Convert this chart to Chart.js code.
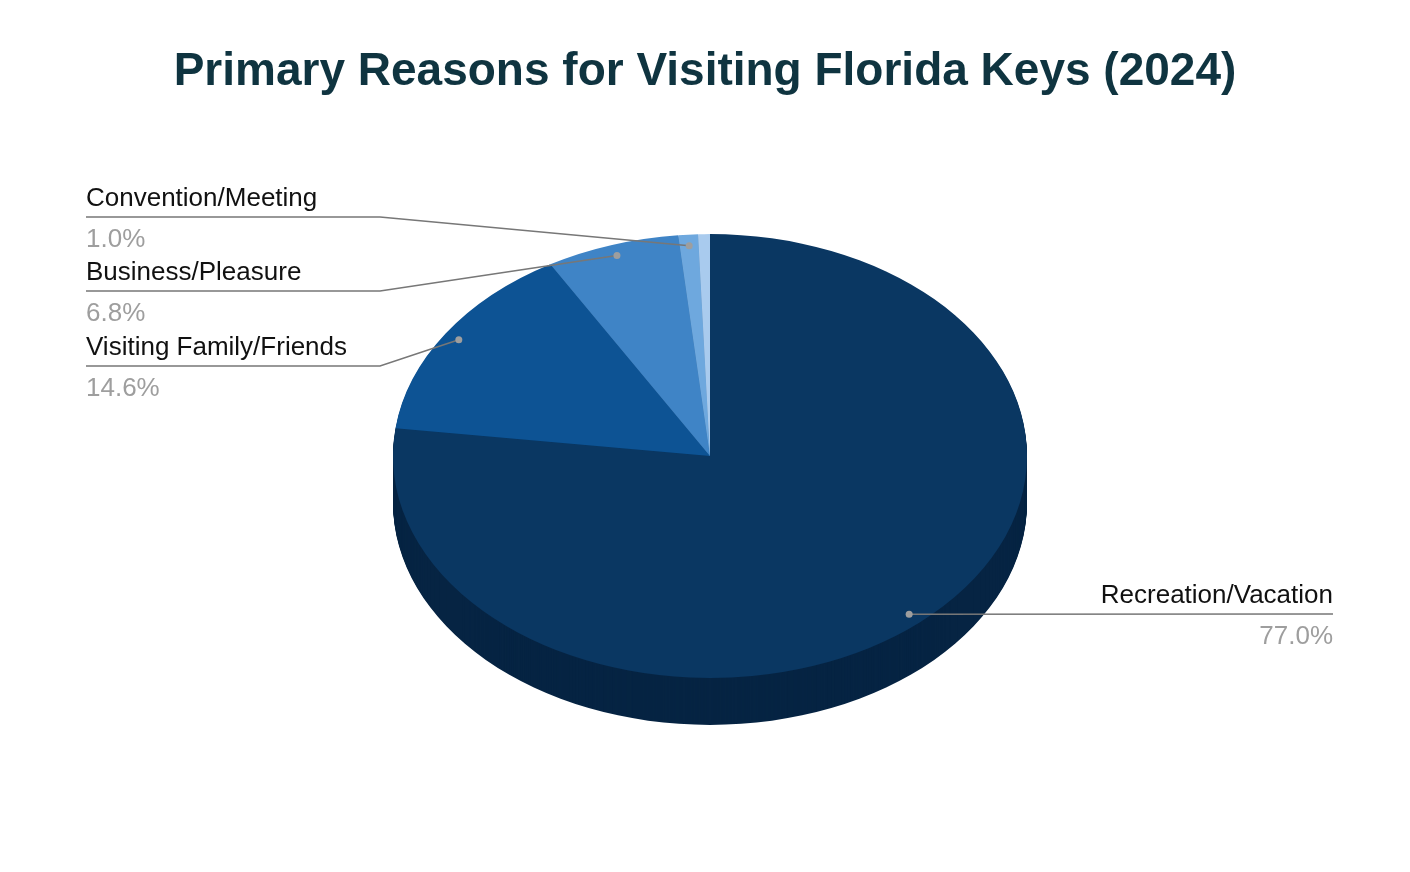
<!DOCTYPE html>
<html><head><meta charset="utf-8">
<script src="https://cdn.jsdelivr.net/npm/chart.js@4"></script>
<style>body{margin:0;background:#fff}#wrap{width:1410px;height:872px}</style>
</head><body><div id="wrap"><canvas id="c"></canvas></div>
<script>
const labels = ["Recreation/Vacation", "Visiting Family/Friends", "Business/Pleasure", "Convention/Meeting", "Other"];
const values = [77.0, 14.6, 6.8, 1.0, 0.6];
const colors = ["#0a3762", "#0d5394", "#3f84c6", "#6ea8de", "#a9cbee"];
const sides = ["#062443", "#083763", "#2a5d8f", "#4b7eaf", "#7a9fc4"];
const shown = [true, true, true, true, false];

const SQ = 0.7, DEPTH = 47;
// label anchors: [textX, lineY, align, elbowX]
const place = [[1333, 614, "right", 909], [86, 366, "left", 380], [86, 291, "left", 380], [86, 217, "left", 380]];

function squash(ctx, chart) {
  const a = chart.getDatasetMeta(0).data[0];
  ctx.translate(a.x, a.y); ctx.scale(1, SQ); ctx.translate(-a.x, -a.y);
}

const pie3d = {
  id: "pie3d",
  beforeDatasetsDraw(chart) {
    const ctx = chart.ctx, meta = chart.getDatasetMeta(0);
    ctx.save(); squash(ctx, chart);
    for (let dy = DEPTH; dy > 0; dy--) {
      meta.data.forEach((a, i) => {
        ctx.fillStyle = sides[i];
        ctx.beginPath();
        ctx.moveTo(a.x, a.y + dy / SQ);
        ctx.arc(a.x, a.y + dy / SQ, a.outerRadius, a.startAngle, a.endAngle);
        ctx.closePath(); ctx.fill();
      });
    }
  },
  afterDatasetsDraw(chart) {
    const ctx = chart.ctx, meta = chart.getDatasetMeta(0);
    ctx.restore();
    meta.data.forEach((a, i) => {
      if (!shown[i]) return;
      const m = (a.startAngle + a.endAngle) / 2, r = a.outerRadius * 0.95;
      const px = a.x + Math.cos(m) * r, py = a.y + Math.sin(m) * r * SQ;
      const [tx, ly, al, ex] = place[i];
      ctx.strokeStyle = "#777"; ctx.lineWidth = 1.5;
      ctx.beginPath(); ctx.moveTo(px, py);
      if (al === "left") { ctx.lineTo(ex, ly); ctx.lineTo(tx, ly); } else { ctx.lineTo(tx, ly); }
      ctx.stroke();
      ctx.fillStyle = "#9e9e9e"; ctx.beginPath(); ctx.arc(px, py, 3.5, 0, Math.PI * 2); ctx.fill();
      ctx.textAlign = al; ctx.textBaseline = "alphabetic";
      ctx.font = "26px 'Liberation Sans', Arial, sans-serif";
      ctx.fillStyle = "#111"; ctx.fillText(labels[i], tx, ly - 11);
      ctx.fillStyle = "#9e9e9e"; ctx.fillText(values[i].toFixed(1) + "%", tx, ly + 30);
    });
    ctx.save();
    ctx.font = "bold 46px 'Liberation Sans', Arial, sans-serif";
    ctx.fillStyle = "#0f3440"; ctx.textAlign = "center"; ctx.textBaseline = "middle";
    ctx.fillText("Primary Reasons for Visiting Florida Keys (2024)", 705, 72);
    ctx.restore();
  }
};

new Chart(document.getElementById("c"), {
  type: "pie",
  data: { labels, datasets: [{ data: values, backgroundColor: colors, borderWidth: 0 }] },
  options: {
    responsive: true, maintainAspectRatio: false, animation: false,
    layout: { padding: { top: 139, bottom: 99, left: 10, right: 0 } },
    plugins: { legend: { display: false }, tooltip: { enabled: false }, title: { display: false } }
  },
  plugins: [pie3d]
});
</script></body></html>
